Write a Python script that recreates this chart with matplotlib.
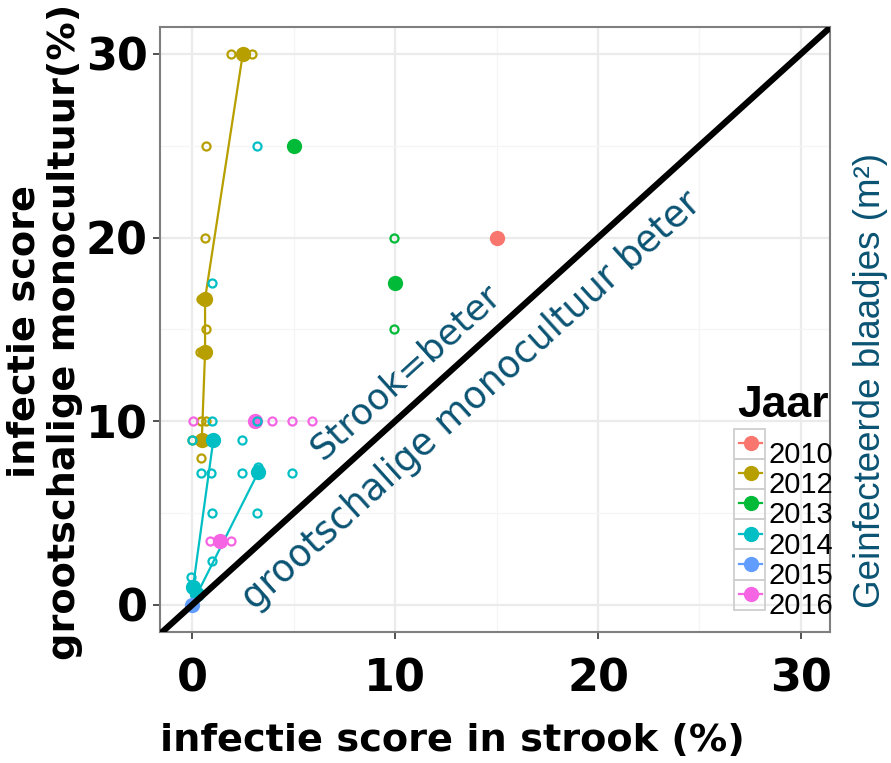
import matplotlib.pyplot as plt
from matplotlib.lines import Line2D
from matplotlib.patches import Rectangle

jaren = ['2010', '2012', '2013', '2014', '2015', '2016']
kleuren = ['#F8766D', '#B79F00', '#00BA38', '#00BFC4', '#619CFF', '#F564E3']
tekstkleur = '#0b5373'

# gemiddelden (gevulde punten), x = strook, y = monocultuur
gem2010_x = [15.0]
gem2010_y = [20.0]
gem2012_x = [0.48, 0.64, 0.64, 2.5]
gem2012_y = [9.0, 13.75, 16.67, 30.0]
gem2013_x = [5.0, 10.0]
gem2013_y = [25.0, 17.5]
gem2014a_x = [0.05, 1.05]
gem2014a_y = [1.0, 9.0]
gem2014b_x = [0.25, 3.27]
gem2014b_y = [0.6, 7.25]
gem2015_x = [0.0]
gem2015_y = [0.0]
gem2016_x = [3.1, 1.38]
gem2016_y = [10.0, 3.5]

# losse waarnemingen (open cirkels)
los2012_x = [1.9, 2.97, 0.69, 0.64, 0.45, 0.69, 0.4, 0.43, 0.69, 0.0, 0.43]
los2012_y = [30, 30, 25, 20, 16.67, 15, 13.75, 10, 10, 9, 8]
los2013_x = [9.93, 9.93]
los2013_y = [20, 15]
los2014_x = [3.2, 1.0, 1.0, 3.2, 0.0, 1.05, 2.45, 0.43, 0.94, 2.45, 3.27, 4.94, 1.0, 3.2, 1.0, -0.05]
los2014_y = [25, 17.5, 10, 10, 9, 9, 9, 7.2, 7.2, 7.2, 7.5, 7.2, 5, 5, 2.4, 1.5]
los2016_x = [0.07, 3.93, 4.94, 5.93, 0.89, 1.9]
los2016_y = [10, 10, 10, 10, 3.5, 3.5]

W, H = 891, 763
fig = plt.figure(figsize=(W / 100, H / 100), dpi=100)
ax = fig.add_axes([160 / W, 1 - 632 / H, (830 - 160) / W, (632 - 27) / H])

ax.set_xlim(-1.58, 31.43)
ax.set_ylim(-1.47, 31.46)
ax.set_xticks([0, 10, 20, 30])
ax.set_yticks([0, 10, 20, 30])
ax.set_xticks([5, 15, 25], minor=True)
ax.set_yticks([5, 15, 25], minor=True)
ax.grid(which='major', color='#ebebeb', lw=1.6, zorder=0)
ax.grid(which='minor', color='#f5f5f5', lw=1.0, zorder=0)
ax.set_axisbelow(True)
for s in ax.spines.values():
    s.set_color('#7f7f7f')
    s.set_linewidth(1.5)
ax.tick_params(which='major', length=5, width=1.2, color='#333333', labelsize=32)
ax.tick_params(axis='y', pad=4)
ax.tick_params(axis='x', pad=13)
ax.tick_params(which='minor', length=0)
for lab in ax.get_xticklabels() + ax.get_yticklabels():
    lab.set_fontweight('bold')

k = dict(zip(jaren, kleuren))

# lijnen tussen de gemiddelden
ax.plot(gem2012_x, gem2012_y, color=k['2012'], lw=1.6, zorder=2)
ax.plot(gem2014a_x, gem2014a_y, color=k['2014'], lw=1.6, zorder=2)
ax.plot(gem2014b_x, gem2014b_y, color=k['2014'], lw=1.6, zorder=2)

gevuld = [('2010', gem2010_x, gem2010_y), ('2012', gem2012_x, gem2012_y),
          ('2013', gem2013_x, gem2013_y), ('2014', gem2014a_x, gem2014a_y),
          ('2014', gem2014b_x, gem2014b_y), ('2015', gem2015_x, gem2015_y),
          ('2016', gem2016_x, gem2016_y)]
for jaar, xs, ys in gevuld:
    ax.plot(xs, ys, 'o', color=k[jaar], ms=11, mew=0, ls='none', zorder=3)

open_ = [('2012', los2012_x, los2012_y), ('2013', los2013_x, los2013_y),
         ('2014', los2014_x, los2014_y), ('2016', los2016_x, los2016_y)]
for jaar, xs, ys in open_:
    ax.plot(xs, ys, 'o', mfc='none', mec=k[jaar], ms=5.8, mew=1.6, ls='none', zorder=4)

# diagonaal y = x
ax.plot([-5, 40], [-5, 40], color='black', lw=4.5, zorder=5, solid_capstyle='butt')

ax.text(10.55, 12.7, 'Strook=beter', rotation=42.1, rotation_mode='anchor',
        ha='center', va='center', fontsize=26, color=tekstkleur)
ax.text(13.8, 11.1, 'grootschalige monocultuur beter', rotation=42.1,
        rotation_mode='anchor', ha='center', va='center', fontsize=26.5,
        color=tekstkleur)

fig.text(452 / W, 1 - 741 / H, 'infectie score in strook (%)', ha='center',
         va='center', fontsize=27.5, fontweight='bold')
fig.text(45 / W, 1 - 332 / H, 'infectie score\ngrootschalige monocultuur(%)',
         ha='center', va='center', rotation=90, fontsize=27.5, fontweight='bold',
         linespacing=1.15)

fig.text(871 / W, 1 - 380 / H, 'Geinfecteerde blaadjes (m²)', ha='center',
         va='center', rotation=90, fontsize=26.5, color=tekstkleur,
         family='Liberation Sans')

# legenda
fig.text(737 / W, 1 - 417 / H, 'Jaar', ha='left', va='baseline', fontsize=32,
         fontweight='bold', family='Liberation Sans')
top = 428.5
for i, jaar in enumerate(jaren):
    y0 = top + i * 30.2
    fig.patches.append(Rectangle((734 / W, 1 - (y0 + 30.2) / H), 31 / W, 30.2 / H,
                                 transform=fig.transFigure, fill=False,
                                 edgecolor='#cfcfcf', lw=1.3))
    yc = 1 - (y0 + 14.5) / H
    fig.lines.append(Line2D([739 / W, 762 / W], [yc, yc], transform=fig.transFigure,
                            color=k[jaar], lw=1.6))
    fig.lines.append(Line2D([750.5 / W], [yc], transform=fig.transFigure, marker='o',
                            color=k[jaar], ms=11, mew=0))
    fig.text(769 / W, 1 - (y0 + 34.5) / H, jaar, ha='left', va='baseline',
             fontsize=21, family='Liberation Sans')

fig.savefig('out.png', dpi=100)
